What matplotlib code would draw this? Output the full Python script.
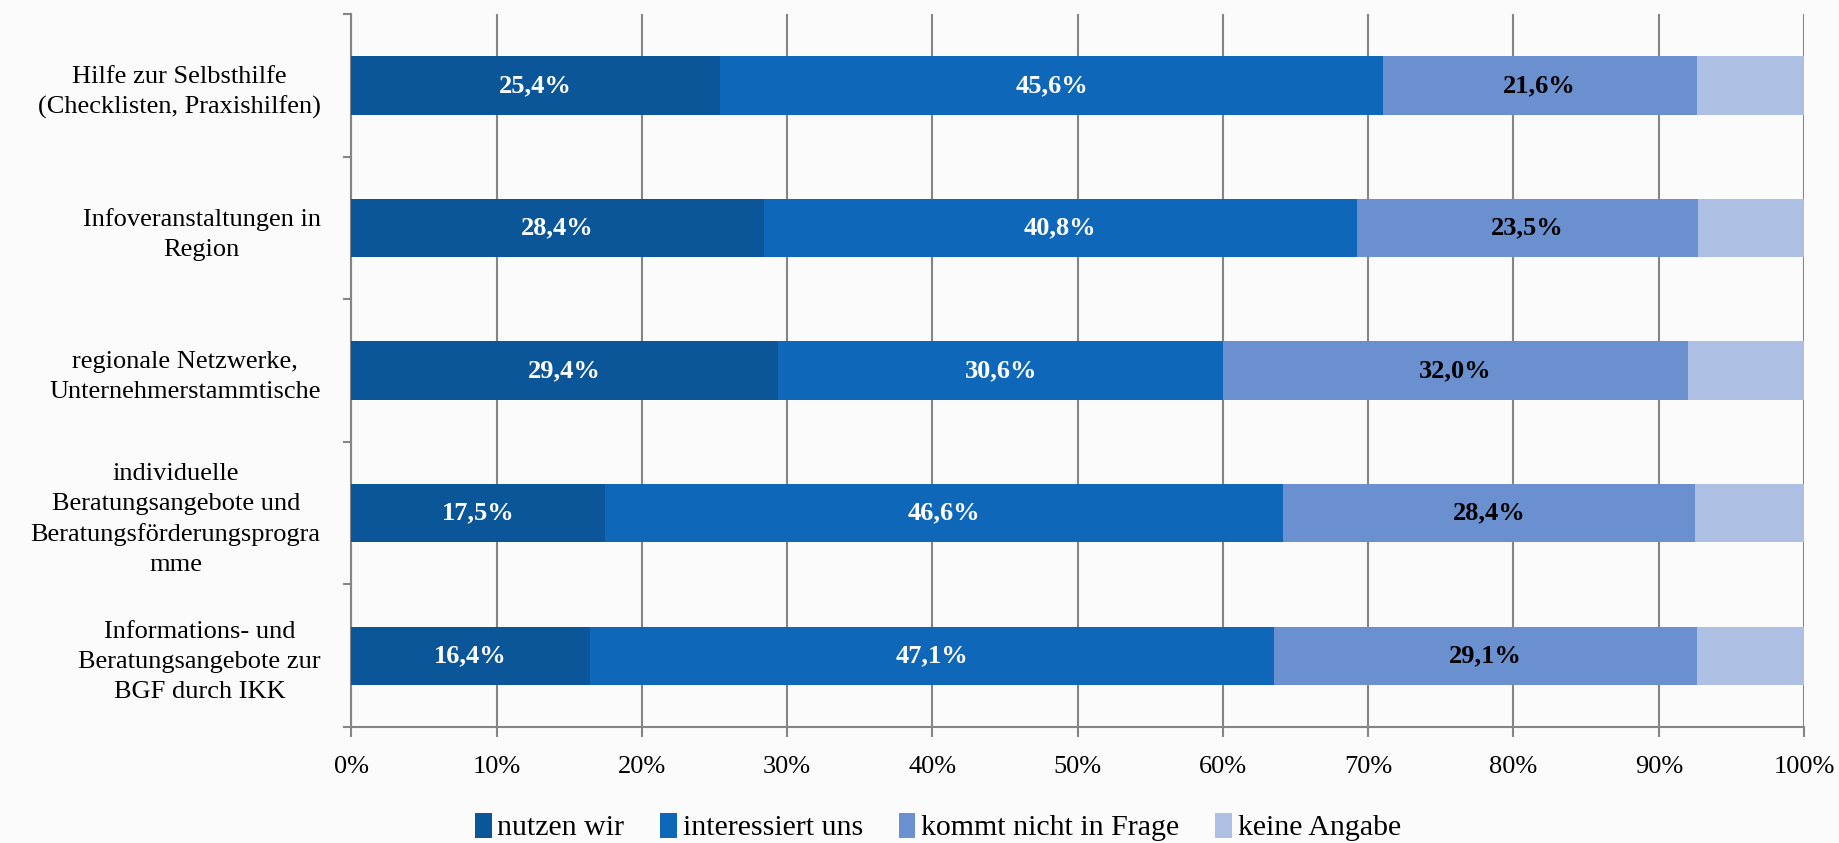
import numpy as np
import matplotlib.pyplot as plt

categories = [
    "Hilfe zur Selbsthilfe\n(Checklisten, Praxishilfen)",
    "Infoveranstaltungen in\nRegion",
    "regionale Netzwerke,\nUnternehmerstammtische",
    "individuelle\nBeratungsangebote und\nBeratungsförderungsprogra\nmme",
    "Informations- und\nBeratungsangebote zur\nBGF durch IKK",
]
series_names = ["nutzen wir", "interessiert uns", "kommt nicht in Frage", "keine Angabe"]
nutzen_wir = [25.4, 28.4, 29.4, 17.5, 16.4]
interessiert_uns = [45.6, 40.8, 30.6, 46.6, 47.1]
kommt_nicht = [21.6, 23.5, 32.0, 28.4, 29.1]
keine_angabe = [7.4, 7.3, 8.0, 7.5, 7.4]
x_ticks = [0, 10, 20, 30, 40, 50, 60, 70, 80, 90, 100]

colors = ["#0b5699", "#0f67b9", "#6a90cf", "#adbfe2"]
label_colors = ["white", "white", "black", None]

plt.rcParams['font.family'] = ['Liberation Serif', 'DejaVu Serif']

fig = plt.figure(figsize=(18.39, 8.43), dpi=100, facecolor="#fbfbfb")
ax = fig.add_axes([0.191, 0.1376, 0.79, 0.8454])
ax.set_facecolor("#fbfbfb")

y = np.arange(len(categories))
data = [nutzen_wir, interessiert_uns, kommt_nicht, keine_angabe]
left = np.zeros(len(categories))
for vals, name, col, lc in zip(data, series_names, colors, label_colors):
    vals = np.array(vals)
    ax.barh(y, vals, left=left, height=0.41, color=col, label=name, zorder=3)
    if lc is not None:
        for yi, l, v in zip(y, left, vals):
            ax.text(l + v / 2, yi, f"{v:.1f}%".replace(".", ","), ha="center", va="center",
                    color=lc, fontsize=19, fontweight="bold", zorder=4)
    left += vals

ax.set_xlim(0, 100)
ax.set_ylim(len(categories) - 0.5, -0.5)
ax.set_xticks(x_ticks)
ax.set_xticklabels([f"{t}%" for t in x_ticks], fontsize=19)
ax.xaxis.grid(True, color="#858585", linewidth=1.5, zorder=1)

ax.set_yticks(np.arange(-0.5, len(categories), 1.0))
ax.set_yticklabels([])
ax.set_yticks(y, minor=True)
ax.set_yticklabels(categories, minor=True, fontsize=19, multialignment="center",
                   linespacing=1.45)
ax.tick_params(axis="y", which="minor", length=0, pad=22)
ax.tick_params(axis="y", which="major", length=6, color="#858585", width=1.5)
ax.tick_params(axis="x", length=7, color="#858585", width=1.5, pad=14)

for s in ["top", "right"]:
    ax.spines[s].set_visible(False)
for s in ["left", "bottom"]:
    ax.spines[s].set_color("#858585")
    ax.spines[s].set_linewidth(1.5)

fig.legend(loc="lower center", bbox_to_anchor=(0.51, -0.03), ncol=4, frameon=False,
           fontsize=21.5, handlelength=0.55, handleheight=0.9, handletextpad=0.2,
           columnspacing=1.2)

fig.savefig("out.png", dpi=100, facecolor=fig.get_facecolor())
